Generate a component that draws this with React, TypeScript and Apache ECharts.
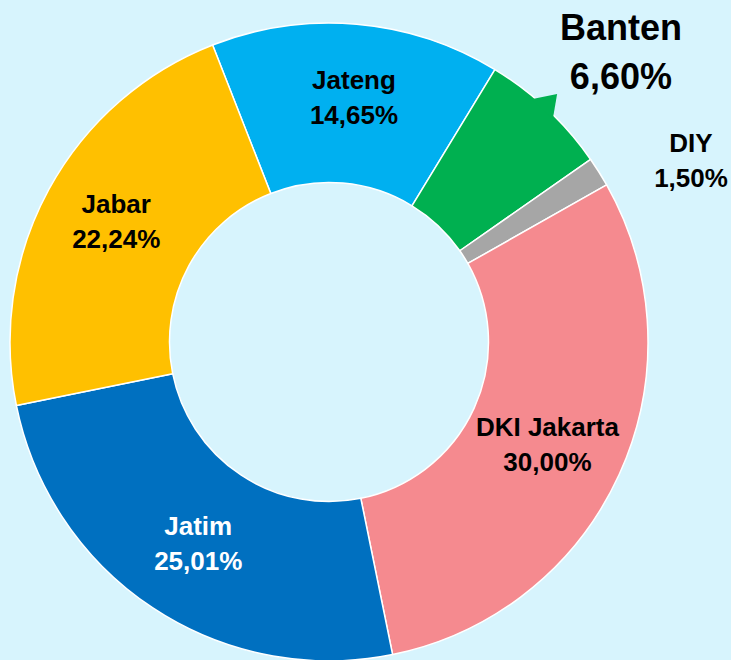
import React, { useEffect, useRef } from "react";
import * as echarts from "echarts";

const categories = ["Jateng", "Banten", "DIY", "DKI Jakarta", "Jatim", "Jabar"];
const values = [14.65, 6.6, 1.5, 30.0, 25.01, 22.24];
const colors = ["#00b0f0", "#00b050", "#a6a6a6", "#f58a8f", "#0070c0", "#ffc000"];
const labelColors = ["#000000", "#000000", "#000000", "#000000", "#ffffff", "#000000"];

const W = 731;
const H = 660;
const CX = 329;
const CY = 342;
const R_IN = 159.5;
const R_OUT = 319;
const START = 111.4;

const FONT = "'Liberation Sans', Arial, sans-serif";

function fmt(v: number): string {
  return v.toFixed(2).replace(".", ",") + "%";
}

function polar(angleFromTopDeg: number, r: number): number[] {
  const a = (angleFromTopDeg * Math.PI) / 180;
  return [CX + r * Math.sin(a), CY - r * Math.cos(a)];
}

export default function App() {
  const ref = useRef<HTMLDivElement>(null);

  useEffect(() => {
    if (!ref.current) return;
    const chart = echarts.init(ref.current, undefined, { renderer: "svg", width: W, height: H });

    // label adjustments (dx, dy) relative to the inside position
    const adjust: Record<number, number[]> = {
      0: [4, -3],
      1: [126, -113],
      2: [157, -52],
      3: [-2, 2],
      4: [3, 0],
      5: [0, -5],
    };

    const data = categories.map((name, i) => {
      const big = name === "Banten";
      return {
        name,
        value: values[i],
        itemStyle: { color: colors[i] },
        label: {
          show: true,
          position: "inside",
          formatter: name + "\n" + fmt(values[i]),
          color: labelColors[i],
          fontFamily: FONT,
          fontWeight: "bold",
          fontSize: big ? 36 : 26,
          lineHeight: big ? 49 : 35,
          align: "center",
        },
      };
    });

    // callout pointer attached to Banten slice
    const tri = [polar(39.8, R_OUT - 3), polar(42.6, 337), polar(45.1, R_OUT - 3)];

    chart.setOption({
      animation: false,
      backgroundColor: "#d7f4fd",
      series: [
        {
          type: "pie",
          center: [CX, CY],
          radius: [R_IN, R_OUT],
          startAngle: START,
          clockwise: true,
          avoidLabelOverlap: false,
          labelLine: { show: false },
          itemStyle: { borderColor: "#ffffff", borderWidth: 1.5 },
          emphasis: { disabled: true },
          labelLayout: (params: any) => {
            const d = adjust[params.dataIndex] || [0, 0];
            return { dx: d[0], dy: d[1] };
          },
          data,
        },
      ],
      graphic: [
        {
          type: "polygon",
          z: 10,
          shape: { points: tri },
          style: { fill: colors[1], stroke: "none" },
        },
      ],
    });

    return () => {
      chart.dispose();
    };
  }, []);

  return (
    <div
      ref={ref}
      style={{ position: "absolute", left: 0, top: 0, width: W, height: H }}
    />
  );
}
